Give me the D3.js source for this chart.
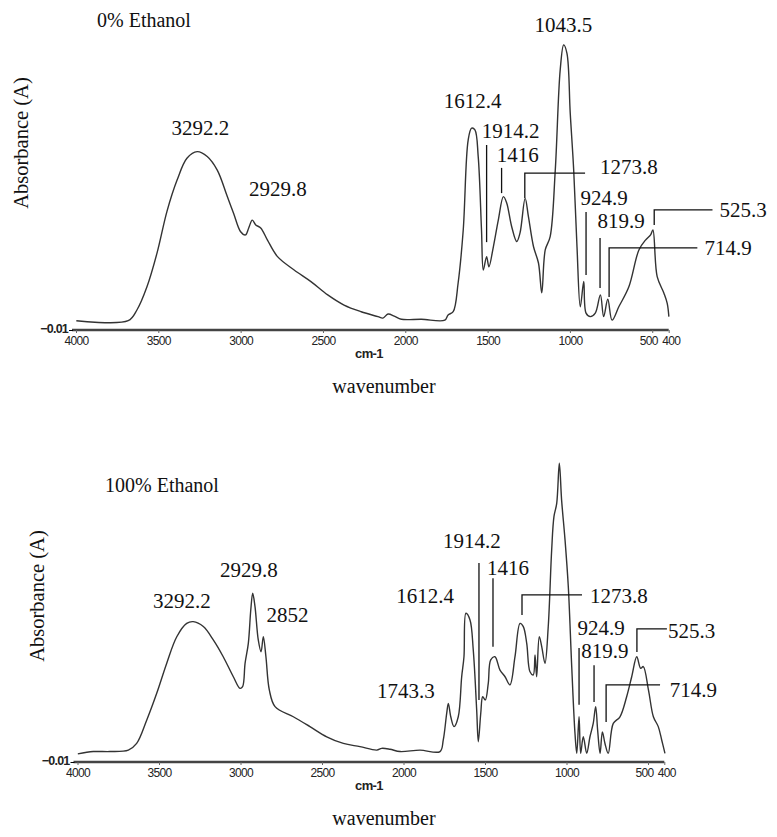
<!DOCTYPE html>
<html>
<head>
<meta charset="utf-8">
<script src="https://cdn.jsdelivr.net/npm/d3@7"></script>
<style>
  body { margin: 0; background: #fff; }
  svg { display: block; }
  .serif { font-family: "Liberation Serif", "Times New Roman", serif; fill: #111; }
  .tick text { font-family: "Liberation Sans", Arial, sans-serif; font-size: 12px; fill: #222; }
</style>
</head>
<body>
<svg id="chart" width="777" height="837"></svg>
<script>
// x axis ticks (cm-1)
var tickValues = [4000, 3500, 3000, 2500, 2000, 1500, 1000, 500, 400];

// 0% ethanol spectrum
var wavenumber0 = [3998, 3683, 3630, 3569, 3508, 3447, 3386, 3325, 3264, 3203, 3142, 3081, 3043, 3000, 2970, 2951, 2929, 2908, 2878, 2837, 2776, 2675, 2573, 2471, 2372, 2268, 2166, 2136, 2105, 2067, 2024, 1902, 1760, 1740, 1709, 1679, 1648, 1618, 1597, 1577, 1557, 1537, 1526, 1506, 1492, 1465, 1435, 1404, 1384, 1354, 1323, 1303, 1272, 1252, 1221, 1191, 1171, 1150, 1120, 1089, 1059, 1038, 1018, 998, 977, 957, 937, 916, 902, 876, 846, 815, 795, 770, 744, 703, 642, 581, 541, 510, 496, 470, 429, 409, 399];
var absorbance0 = [0.022, 0.022, 0.059, 0.139, 0.255, 0.40, 0.507, 0.583, 0.605, 0.588, 0.541, 0.45, 0.393, 0.329, 0.318, 0.342, 0.369, 0.352, 0.342, 0.30, 0.243, 0.197, 0.157, 0.111, 0.076, 0.053, 0.036, 0.031, 0.045, 0.038, 0.027, 0.027, 0.024, 0.042, 0.053, 0.152, 0.335, 0.645, 0.686, 0.68, 0.588, 0.335, 0.197, 0.243, 0.208, 0.277, 0.369, 0.45, 0.428, 0.347, 0.295, 0.325, 0.444, 0.381, 0.277, 0.221, 0.118, 0.266, 0.312, 0.541, 0.887, 0.973, 0.944, 0.737, 0.541, 0.277, 0.07, 0.157, 0.048, 0.036, 0.048, 0.111, 0.036, 0.096, 0.024, 0.07, 0.139, 0.266, 0.30, 0.318, 0.335, 0.174, 0.117, 0.082, 0.036];

// 100% ethanol spectrum
var wavenumber100 = [3998, 3903, 3801, 3688, 3637, 3575, 3514, 3453, 3391, 3330, 3290, 3228, 3167, 3106, 3044, 3003, 2987, 2972, 2952, 2937, 2925, 2911, 2891, 2874, 2860, 2844, 2823, 2788, 2676, 2574, 2471, 2369, 2267, 2164, 2134, 2083, 2021, 1899, 1776, 1756, 1735, 1725, 1710, 1690, 1664, 1643, 1629, 1617, 1592, 1572, 1551, 1541, 1526, 1514, 1498, 1480, 1465, 1439, 1408, 1377, 1347, 1316, 1285, 1265, 1244, 1224, 1204, 1193, 1183, 1167, 1152, 1132, 1112, 1091, 1077, 1060, 1044, 1030, 1009, 989, 968, 948, 937, 923, 913, 897, 876, 856, 836, 821, 809, 794, 780, 764, 744, 713, 672, 631, 600, 569, 545, 529, 497, 467, 437, 416, 396];
var absorbance100 = [0.018, 0.026, 0.026, 0.031, 0.054, 0.135, 0.227, 0.33, 0.422, 0.468, 0.474, 0.457, 0.411, 0.353, 0.284, 0.244, 0.25, 0.33, 0.399, 0.514, 0.572, 0.526, 0.411, 0.37, 0.422, 0.353, 0.238, 0.181, 0.146, 0.112, 0.077, 0.054, 0.043, 0.031, 0.037, 0.034, 0.026, 0.031, 0.026, 0.066, 0.158, 0.192, 0.146, 0.112, 0.146, 0.284, 0.353, 0.503, 0.48, 0.376, 0.169, 0.06, 0.158, 0.215, 0.204, 0.261, 0.342, 0.353, 0.307, 0.284, 0.256, 0.353, 0.468, 0.457, 0.399, 0.301, 0.29, 0.359, 0.284, 0.422, 0.388, 0.33, 0.457, 0.721, 0.836, 0.882, 1.02, 0.893, 0.756, 0.595, 0.319, 0.089, 0.02, 0.146, 0.02, 0.077, 0.02, 0.077, 0.123, 0.181, 0.10, 0.02, 0.094, 0.054, 0.02, 0.123, 0.146, 0.215, 0.284, 0.353, 0.313, 0.319, 0.238, 0.146, 0.112, 0.066, 0.02];

// peak labels: text position and leader line in data units (wavenumber, absorbance)
var peaks0 = [
  {label: "3292.2", tx: 3244, ty: 0.662, anchor: "middle"},
  {label: "2929.8", tx: 2774, ty: 0.452, anchor: "middle"},
  {label: "1612.4", tx: 1591, ty: 0.756, anchor: "middle"},
  {label: "1043.5", tx: 1039, ty: 1.018, anchor: "middle"},
  {label: "1914.2", tx: 1360, ty: 0.652, anchor: "middle", line: [[1506, 0.628], [1506, 0.293]]},
  {label: "1416", tx: 1317, ty: 0.569, anchor: "middle", line: [[1415, 0.549], [1415, 0.462]]},
  {label: "1273.8", tx: 817, ty: 0.528, anchor: "start", line: [[1274, 0.445], [1274, 0.531], [908, 0.531]]},
  {label: "924.9", tx: 792, ty: 0.421, anchor: "middle", line: [[902, 0.397], [902, 0.18]]},
  {label: "819.9", tx: 689, ty: 0.342, anchor: "middle", line: [[817, 0.307], [817, 0.135]]},
  {label: "714.9", tx: 183, ty: 0.249, anchor: "start", line: [[762, 0.104], [762, 0.273], [226, 0.273]]},
  {label: "525.3", tx: 91, ty: 0.380, anchor: "start", line: [[488, 0.352], [488, 0.404], [134, 0.404]]}
];
var peaks100 = [
  {label: "3292.2", tx: 3359, ty: 0.521, anchor: "middle"},
  {label: "2929.8", tx: 2948, ty: 0.628, anchor: "middle"},
  {label: "2852", tx: 2712, ty: 0.473, anchor: "middle"},
  {label: "1612.4", tx: 1868, ty: 0.538, anchor: "middle"},
  {label: "1743.3", tx: 1985, ty: 0.211, anchor: "middle"},
  {label: "1914.2", tx: 1580, ty: 0.728, anchor: "middle", line: [[1537, 0.676], [1537, 0.204]]},
  {label: "1416", tx: 1359, ty: 0.635, anchor: "middle", line: [[1451, 0.624], [1451, 0.387]]},
  {label: "1273.8", tx: 856, ty: 0.538, anchor: "start", line: [[1273, 0.497], [1273, 0.566], [905, 0.566]]},
  {label: "924.9", tx: 788, ty: 0.428, anchor: "middle", line: [[923, 0.383], [923, 0.187]]},
  {label: "819.9", tx: 764, ty: 0.349, anchor: "middle", line: [[831, 0.324], [831, 0.197]]},
  {label: "714.9", tx: 366, ty: 0.214, anchor: "start", line: [[757, 0.128], [757, 0.256], [426, 0.256]]},
  {label: "525.3", tx: 378, ty: 0.418, anchor: "start", line: [[568, 0.369], [568, 0.449], [384, 0.449]]}
];

var svg = d3.select('#chart');

function drawPanel(p) {
  var x = d3.scaleLinear().domain([4000, 400]).range([p.x0, p.x1]);
  var y = d3.scaleLinear().domain([-0.01, 0.99]).range([p.base, p.base - 290]);
  var g = svg.append('g');

  // spectrum
  var pts = p.wn.map(function(w, i){ return [w, p.ab[i]]; });
  var line = d3.line()
    .x(function(d){ return x(d[0]); })
    .y(function(d){ return y(d[1]); })
    .curve(d3.curveCatmullRom.alpha(0.5));
  g.append('path').datum(pts)
    .attr('d', line)
    .attr('fill', 'none')
    .attr('stroke', '#333')
    .attr('stroke-width', 1.4);

  // x axis
  var xa = g.append('g')
    .attr('transform', 'translate(0,' + p.base + ')')
    .call(d3.axisBottom(x).tickValues(tickValues).tickSize(3).tickPadding(3).tickFormat(d3.format('d')));
  xa.select('.domain').attr('stroke', '#444').attr('stroke-width', 2.5).attr('d', 'M' + (p.x0 - 4) + ',0H' + p.x1);
  xa.selectAll('.tick line').attr('stroke', '#666');
  xa.selectAll('.tick text')
    .style('letter-spacing', '-0.7px')
    .attr('dx', function(d){ return d === 500 ? -4 : (d === 400 ? 2 : 0); });

  // y axis, only the -0.01 tick
  var ya = g.append('g')
    .attr('transform', 'translate(' + (p.x0 - 3) + ',0)')
    .call(d3.axisLeft(y).tickValues([-0.01]).tickSize(4).tickPadding(1).tickFormat(d3.format('.2f')));
  ya.select('.domain').remove();
  ya.selectAll('.tick text').style('font-weight', 'bold').style('font-size', '12.5px')
    .style('letter-spacing', '-0.8px').attr('dy', '0.2em');

  // peak labels
  p.peaks.forEach(function(k){
    if (k.line) {
      g.append('path')
        .attr('d', d3.line().x(function(d){ return x(d[0]); }).y(function(d){ return y(d[1]); })(k.line))
        .attr('fill', 'none').attr('stroke', '#111').attr('stroke-width', 1.3);
    }
    g.append('text').attr('class', 'serif')
      .attr('x', x(k.tx)).attr('y', y(k.ty))
      .attr('text-anchor', k.anchor)
      .style('font-size', '21px')
      .text(k.label);
  });

  g.append('text').attr('class', 'serif')
    .attr('x', p.titleX).attr('y', p.titleY)
    .style('font-size', '20px')
    .text(p.title);

  g.append('text').attr('class', 'serif')
    .attr('transform', 'translate(' + p.ylabX + ',' + p.ylabY + ') rotate(-90)')
    .attr('text-anchor', 'middle')
    .style('font-size', '20.5px')
    .text('Absorbance (A)');

  g.append('text')
    .attr('x', 369).attr('y', p.base + 28)
    .attr('text-anchor', 'middle')
    .style('font-family', '"Liberation Sans", Arial, sans-serif')
    .style('font-size', '13px').style('font-weight', 'bold').style('letter-spacing', '-0.6px')
    .attr('fill', '#222')
    .text('cm-1');

  g.append('text').attr('class', 'serif')
    .attr('x', 384).attr('y', p.base + 63)
    .attr('text-anchor', 'middle')
    .style('font-size', '20px')
    .text('wavenumber');
}

drawPanel({wn: wavenumber0, ab: absorbance0, peaks: peaks0, title: '0% Ethanol',
  x0: 76, x1: 668.7, base: 330, titleX: 97, titleY: 27, ylabX: 28, ylabY: 143});
drawPanel({wn: wavenumber100, ab: absorbance100, peaks: peaks100, title: '100% Ethanol',
  x0: 77.5, x1: 664.3, base: 762, titleX: 105, titleY: 492, ylabX: 44, ylabY: 596});
</script>
</body>
</html>
